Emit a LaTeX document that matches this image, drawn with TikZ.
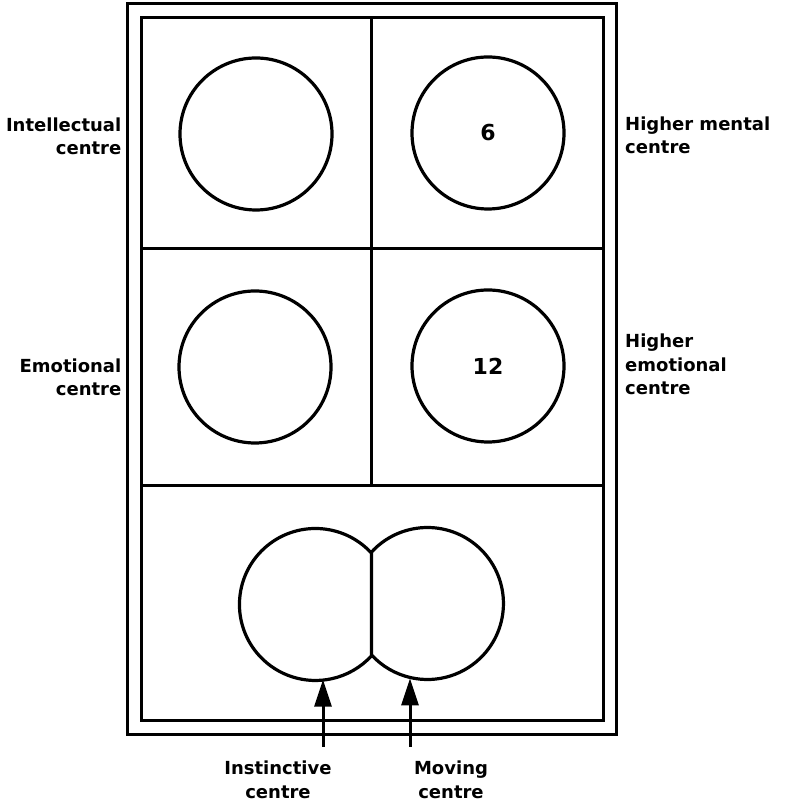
\documentclass[tikz,border=0pt]{standalone}
\usepackage{fontspec}
\setmainfont{DejaVu Sans}
\usetikzlibrary{arrows.meta}

\begin{document}
\begin{tikzpicture}[x=1pt, y=1pt,
    frame/.style={line width=3pt},
    centre/.style={circle, draw, line width=3.2pt, minimum size=152pt, inner sep=0pt,
                   font=\fontsize{22}{26}\selectfont\bfseries},
    ghost/.style={circle, minimum size=152pt, inner sep=0pt, outer sep=0pt},
    caption/.style={font=\fontsize{18}{23.5}\selectfont\bfseries, inner sep=0pt},
    pointer/.style={-{Triangle[length=27pt,width=17pt]}, line width=3pt}]
          \useasboundingbox (0, 0) rectangle (786, 803);

          % Draw the double frame and the dividers
          \draw[frame] (127, 68) rectangle (616, 799);
          \draw[frame] (141, 82) rectangle (603, 785);
          \draw[frame] (141, 554) -- (603, 554);
          \draw[frame] (141, 317) -- (603, 317);
          \draw[frame] (371, 785) -- (371, 317);

          % Draw the four upper centres
          \node[centre] (intellectual) at (256, 669) {};
          \node[centre] (highmental) at (488, 670) {6};
          \node[centre] (emotional) at (255, 436) {};
          \node[centre] (highemotional) at (488, 437) {12};

          % Draw the joined pair at the bottom
          \node[ghost] (instinctive) at (315, 199) {};
          \node[ghost] (moving) at (427, 199) {};
          \draw[line width=3.2pt, line join=round]
                (instinctive.42.5) arc[start angle=42.5, end angle=317.5, radius=76pt]
                -- (moving.137.5) arc[start angle=137.5, end angle=-137.5, radius=76pt];

          % Add the side labels
          \node[caption, anchor=base east, align=right] (intellabel) at (121.5, 648) {Intellectual\\centre};
          \node[caption, anchor=base east, align=right] (emolabel) at (121.5, 407) {Emotional\\centre};
          \node[caption, anchor=base west, align=left] (mentlabel) at (625, 649) {Higher mental\\centre};
          \node[caption, anchor=base west, align=left] (hemolabel) at (625, 408) {Higher\\emotional\\centre};

          % Add the labels and arrows underneath
          \node[caption, anchor=base, align=center] (instlabel) at (278, 5) {Instinctive\\centre};
          \node[caption, anchor=base, align=center] (movlabel) at (451, 5) {Moving\\centre};
          \coordinate (instTail) at (323, 56);
          \coordinate (movTail) at (410, 56);
          \draw[pointer] (instTail) -- (instTail |- instinctive.-84);
          \draw[pointer] (movTail) -- (movTail |- moving.-102.75);
        \end{tikzpicture}
\end{document}
